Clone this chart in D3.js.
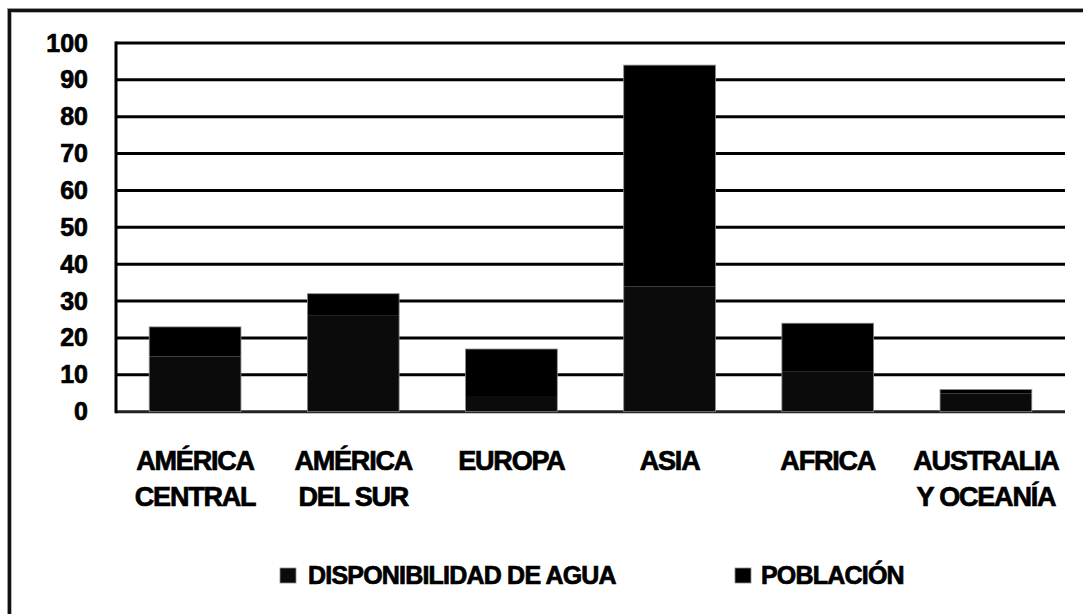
<!DOCTYPE html>
<html>
<head>
<meta charset="utf-8">
<script src="https://cdn.jsdelivr.net/npm/d3@7"></script>
<style>
  html, body { margin: 0; padding: 0; background: #fff; }
  svg { display: block; }
  text { font-family: "Liberation Sans", Arial, sans-serif; font-weight: bold; fill: #000;
         stroke: #000; stroke-width: 0.7px; }
</style>
</head>
<body>
<svg id="chart" width="1083" height="614"></svg>
<script>
// Continents (line break inside a label is marked with \n)
const categories = [
  "AMÉRICA\nCENTRAL",
  "AMÉRICA\nDEL SUR",
  "EUROPA",
  "ASIA",
  "AFRICA",
  "AUSTRALIA\nY OCEANÍA"
];
// Percent of the world's water availability and population
const agua      = [15, 26, 4, 34, 11, 5];
const poblacion = [8, 6, 13, 60, 13, 1];
const seriesNames = ["DISPONIBILIDAD DE AGUA", "POBLACIÓN"];
const seriesColors = ["#0b0b0b", "#000000"];
const yTicks = [0, 10, 20, 30, 40, 50, 60, 70, 80, 90, 100];

const svg = d3.select("#chart");
const W = 1083, H = 614;

// outer frame (double line: grey / black / grey)
svg.append("rect").attr("x", 7.5).attr("y", 8.5).attr("width", W + 20).attr("height", H + 20)
  .attr("fill", "none").attr("stroke", "#9a9a9a").attr("stroke-width", 1);
svg.append("rect").attr("x", 9.5).attr("y", 10.5).attr("width", W + 20).attr("height", H + 20)
  .attr("fill", "none").attr("stroke", "#111").attr("stroke-width", 3);
svg.append("rect").attr("x", 11.5).attr("y", 12.5).attr("width", W + 20).attr("height", H + 20)
  .attr("fill", "none").attr("stroke", "#b5b5b5").attr("stroke-width", 1);

const plot = { left: 116, right: 1065, top: 43, bottom: 411.7 };

const x = d3.scaleBand()
  .domain(categories)
  .range([plot.left, plot.right])
  .paddingInner(0.42)
  .paddingOuter(0.21);

const y = d3.scaleLinear().domain([0, 100]).range([plot.bottom, plot.top]);

// gridlines
svg.append("g")
  .selectAll("line")
  .data(yTicks)
  .join("line")
  .attr("x1", plot.left).attr("x2", plot.right)
  .attr("y1", d => y(d)).attr("y2", d => y(d))
  .attr("stroke", d => d === 0 ? "#222" : "#000")
  .attr("stroke-width", 3);

// stacked bars
const rows = categories.map((c, i) => ({ cat: c, agua: agua[i], poblacion: poblacion[i] }));
const stack = d3.stack().keys(["agua", "poblacion"])(rows);

svg.append("g")
  .selectAll("g")
  .data(stack)
  .join("g")
  .attr("fill", (d, i) => seriesColors[i])
  .selectAll("rect")
  .data(d => d)
  .join("rect")
  .attr("x", d => x(d.data.cat))
  .attr("width", x.bandwidth())
  .attr("y", d => y(d[1]))
  .attr("height", d => y(d[0]) - y(d[1]));

// thin grey outline around each full column
const topLayer = stack[stack.length - 1];
svg.append("g")
  .selectAll("rect")
  .data(topLayer)
  .join("rect")
  .attr("x", d => x(d.data.cat))
  .attr("width", x.bandwidth())
  .attr("y", d => y(d[1]))
  .attr("height", d => y(0) - y(d[1]))
  .attr("fill", "none")
  .attr("stroke", "#8c8c8c")
  .attr("stroke-width", 0.8);

// y axis line
svg.append("line")
  .attr("x1", plot.left).attr("x2", plot.left)
  .attr("y1", plot.top - 1.5).attr("y2", plot.bottom + 1.5)
  .attr("stroke", "#000").attr("stroke-width", 3);

// y tick labels
const yAxis = d3.axisLeft(y).tickValues(yTicks).tickSize(0).tickPadding(28);
const gy = svg.append("g").attr("transform", `translate(${plot.left},0)`).call(yAxis);
gy.select(".domain").remove();
gy.selectAll("text")
  .attr("font-size", 25)
  .attr("font-family", "\"Liberation Sans\", Arial, sans-serif")
  .attr("font-weight", "bold")
  .attr("fill", "#000")
  .attr("stroke", "#000")
  .attr("stroke-width", 0.9);

// category labels
const gx = svg.append("g");
categories.forEach(c => {
  const lines = c.split("\n");
  const t = gx.append("text")
    .attr("x", x(c) + x.bandwidth() / 2)
    .attr("y", 470)
    .attr("text-anchor", "middle")
    .attr("font-size", 27)
    .attr("letter-spacing", -1.2);
  lines.forEach((ln, k) => {
    t.append("tspan")
      .attr("x", x(c) + x.bandwidth() / 2)
      .attr("y", 470 + k * 36)
      .text(ln);
  });
});

// legend
const legendItems = [
  { name: seriesNames[0], color: seriesColors[0], sx: 280, tx: 308 },
  { name: seriesNames[1], color: seriesColors[1], sx: 735, tx: 761 }
];
const lg = svg.append("g");
legendItems.forEach(it => {
  lg.append("rect")
    .attr("x", it.sx).attr("y", 568).attr("width", 16).attr("height", 15)
    .attr("fill", it.color).attr("stroke", "#8c8c8c").attr("stroke-width", 0.8);
  lg.append("text")
    .attr("x", it.tx).attr("y", 584)
    .attr("font-size", 25)
    .attr("letter-spacing", -0.8)
    .attr("stroke-width", 1)
    .text(it.name);
});
</script>
</body>
</html>
